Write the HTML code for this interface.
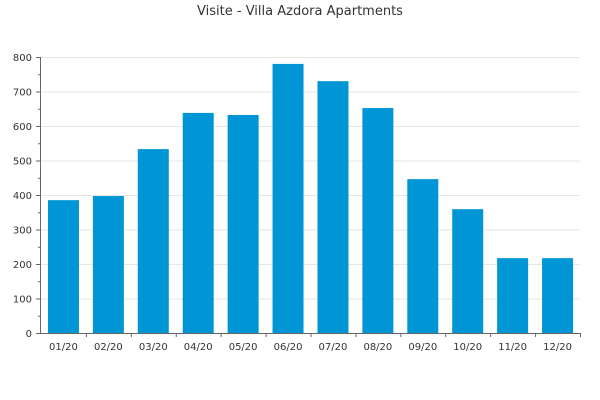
<!DOCTYPE html>
<html><head><meta charset="utf-8"><style>body{margin:0;background:#fff}svg{display:block;font-family:"DejaVu Sans","Liberation Sans",sans-serif}</style></head>
<body>
<svg id="c" width="600" height="400">
<text x="300" y="15" text-anchor="middle" font-size="13" fill="#333">Visite - Villa Azdora Apartments</text>
<g id="grid"></g><g id="bars"></g><g id="axes"></g>
</svg>
<script>
const categories=["01/20","02/20","03/20","04/20","05/20","06/20","07/20","08/20","09/20","10/20","11/20","12/20"];
const visits=[385,397,533,638,632,780,730,652,446,359,217,217];
const yTicks=[0,100,200,300,400,500,600,700,800];
const NS="http://www.w3.org/2000/svg";
const x0=41,x1=580,yb=333,yt=57,ymax=800;
const y=v=>yb-(v/ymax)*(yb-yt);
const band=(x1-x0)/categories.length;
function mk(t,a,p){const e=document.createElementNS(NS,t);for(const k in a)e.setAttribute(k,a[k]);document.getElementById(p).appendChild(e);return e;}
yTicks.forEach(v=>{
 if(v>0){const g=mk('line',{x1:x0,x2:x1,y1:y(v)+.5,y2:y(v)+.5,stroke:'#e6e6e6'},'grid');
 
 }
 mk('line',{x1:36,x2:x0,y1:y(v)+.5,y2:y(v)+.5,stroke:'#666'},'axes');
 if(v<ymax)mk('line',{x1:38,x2:x0,y1:y(v+50)+.5,y2:y(v+50)+.5,stroke:'#666'},'axes');
 const t=mk('text',{x:32,y:y(v)+4,'text-anchor':'end','font-size':'10',fill:'#333'},'axes');t.textContent=v;
 
 
});
categories.forEach((c,i)=>{
 const cx=x0+band*(i+.5);
 const r=mk('rect',{x:cx-15.5,y:y(visits[i]),width:31,height:yb-y(visits[i]),fill:'#0096d6'},'bars');
 
 
 mk('line',{x1:x0+band*(i+1)+.5,x2:x0+band*(i+1)+.5,y1:yb,y2:yb+4,stroke:'#666'},'axes');
 const t=mk('text',{x:cx,y:yb+17,'text-anchor':'middle','font-size':'10',fill:'#333'},'axes');t.textContent=c;
 
 
});
const ax=mk('line',{x1:x0-.5,x2:x0-.5,y1:yt,y2:yb+.5,stroke:'#666'},'axes');


const bx=mk('line',{x1:x0-.5,x2:x1,y1:yb+.5,y2:yb+.5,stroke:'#666'},'axes');


</script>
</body></html>
